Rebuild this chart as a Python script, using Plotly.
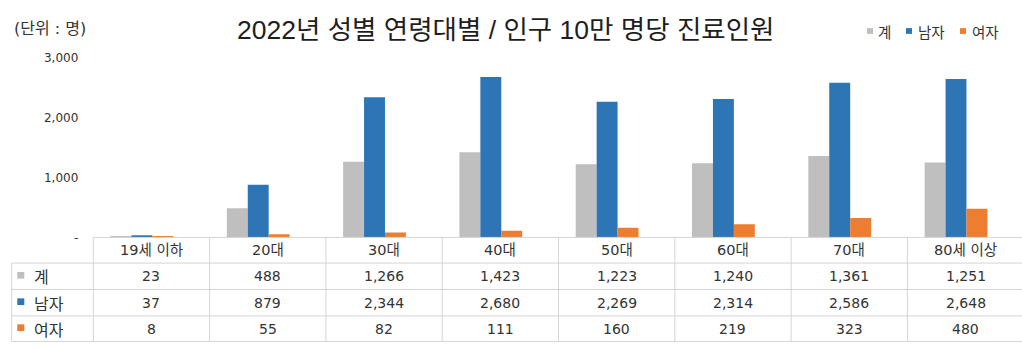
import plotly.graph_objects as go

# ---------------- data ----------------
categories = ["19세 이하", "20대", "30대", "40대", "50대", "60대", "70대", "80세 이상"]
series_names = ["계", "남자", "여자"]
total_vals = [23, 488, 1266, 1423, 1223, 1240, 1361, 1251]
male_vals = [37, 879, 2344, 2680, 2269, 2314, 2586, 2648]
female_vals = [8, 55, 82, 111, 160, 219, 323, 480]
y_tickvals = [0, 1000, 2000, 3000]
y_ticktext = ["-", "1,000", "2,000", "3,000"]
title_text = "2022년 성별 연령대별 / 인구 10만 명당 진료인원"
unit_text = "(단위 : 명)"

colors = ["#BFBFBF", "#2E75B6", "#ED7D31"]
series_vals = [total_vals, male_vals, female_vals]

W, H = 1022, 351
FONT = "Noto Sans CJK KR"
TBL_FONT = "DejaVu Sans, Noto Sans CJK KR"
TITLE_FONT = "Liberation Sans, Noto Sans CJK KR"
TXT = "#333333"
LINE = "#D4D4D4"


def px(x):
    return x / W


def py(y):
    return 1 - y / H


# layout geometry (pixels)
col_left = 93.3
col_w = 116.3
zero_y = 240.0
top_y = 53.1  # y position of 3000
row_lines = [240.0, 266.7, 294.2, 321.7, 348.3]
tbl_left = 11.7

bar_w = 0.18
shift = -0.082
offsets = [shift - 1.5 * bar_w, shift - 0.5 * bar_w, shift + 0.5 * bar_w]

xpos = list(range(len(categories)))

fig = go.Figure()
for name, vals, col, off in zip(series_names, series_vals, colors, offsets):
    fig.add_trace(go.Bar(
        x=xpos, y=vals, name=name, marker=dict(color=col, line=dict(width=0)),
        width=bar_w, offset=off, showlegend=False,
    ))

shapes = []
annotations = []

# table lines
shapes.append(dict(type="line", xref="paper", yref="paper",
                   x0=px(col_left), x1=1, y0=py(row_lines[0]), y1=py(row_lines[0]),
                   line=dict(color=LINE, width=1)))
for yl in row_lines[1:]:
    shapes.append(dict(type="line", xref="paper", yref="paper",
                       x0=px(tbl_left), x1=1, y0=py(yl), y1=py(yl),
                       line=dict(color=LINE, width=1)))
shapes.append(dict(type="line", xref="paper", yref="paper",
                   x0=px(tbl_left), x1=px(tbl_left), y0=py(row_lines[1]), y1=py(row_lines[-1]),
                   line=dict(color=LINE, width=1)))
for k in range(len(categories) + 1):
    xx = col_left + col_w * k
    if xx > W:
        continue
    shapes.append(dict(type="line", xref="paper", yref="paper",
                       x0=px(xx), x1=px(xx), y0=py(row_lines[0]), y1=py(row_lines[-1]),
                       line=dict(color=LINE, width=1)))

# header row
for i, c in enumerate(categories):
    cx = col_left + col_w * (i + 0.5)
    annotations.append(dict(x=px(cx), y=py((row_lines[0] + row_lines[1]) / 2),
                            xref="paper", yref="paper", text=c, showarrow=False,
                            xanchor="center", yanchor="middle",
                            font=dict(family=TBL_FONT, size=14.5, color=TXT)))

# data rows
for r, (name, vals, col) in enumerate(zip(series_names, series_vals, colors)):
    yc = (row_lines[r + 1] + row_lines[r + 2]) / 2
    shapes.append(dict(type="rect", xref="paper", yref="paper",
                       x0=px(17.3), x1=px(24.3), y0=py(yc + 2.5), y1=py(yc - 4.5),
                       fillcolor=col, line=dict(width=0)))
    annotations.append(dict(x=px(32), y=py(yc), xref="paper", yref="paper",
                            text=name, showarrow=False, xanchor="left", yanchor="middle",
                            font=dict(family=FONT, size=16, color=TXT)))
    for i, v in enumerate(vals):
        cx = col_left + col_w * (i + 0.5)
        annotations.append(dict(x=px(cx), y=py(yc), xref="paper", yref="paper",
                                text=f"{v:,}", showarrow=False,
                                xanchor="center", yanchor="middle",
                                font=dict(family=TBL_FONT, size=14, color=TXT)))

# top legend
leg_sq = [867, 906, 960]
leg_tx = [876, 916, 970]
for name, col, sx, tx in zip(series_names, colors, leg_sq, leg_tx):
    shapes.append(dict(type="rect", xref="paper", yref="paper",
                       x0=px(sx), x1=px(sx + 6), y0=py(28), y1=py(22),
                       fillcolor=col, line=dict(width=0)))
    annotations.append(dict(x=px(tx), y=py(25), xref="paper", yref="paper",
                            text=name, showarrow=False, xanchor="left", yanchor="middle",
                            font=dict(family=FONT, size=14.5, color=TXT)))

# title & unit
annotations.append(dict(x=px(505), y=py(24), xref="paper", yref="paper",
                        text=title_text, showarrow=False, xanchor="center", yanchor="middle",
                        font=dict(family=TITLE_FONT, size=26.5, color="#1e1e1e")))
annotations.append(dict(x=px(12), y=py(22), xref="paper", yref="paper",
                        text=unit_text, showarrow=False, xanchor="left", yanchor="middle",
                        font=dict(family=TBL_FONT, size=16, color=TXT)))

x_range = [-0.5, -0.5 + (W - col_left) / col_w]
y_max = 3000 * 1.0
fig.update_layout(
    width=W, height=H,
    margin=dict(l=0, r=0, t=0, b=0),
    paper_bgcolor="white", plot_bgcolor="white",
    barmode="overlay",
    xaxis=dict(domain=[px(col_left), 1], range=x_range, showticklabels=False,
               showgrid=False, zeroline=False, showline=False, ticks=""),
    yaxis=dict(domain=[py(zero_y), py(top_y)], range=[0, y_max],
               tickvals=y_tickvals, ticktext=y_ticktext, showgrid=False,
               zeroline=False, showline=False, ticks="", ticklabelstandoff=14,
               tickfont=dict(family=TBL_FONT, size=12, color=TXT)),
    shapes=shapes, annotations=annotations,
    font=dict(family=FONT),
)

fig.write_html("out.html")
